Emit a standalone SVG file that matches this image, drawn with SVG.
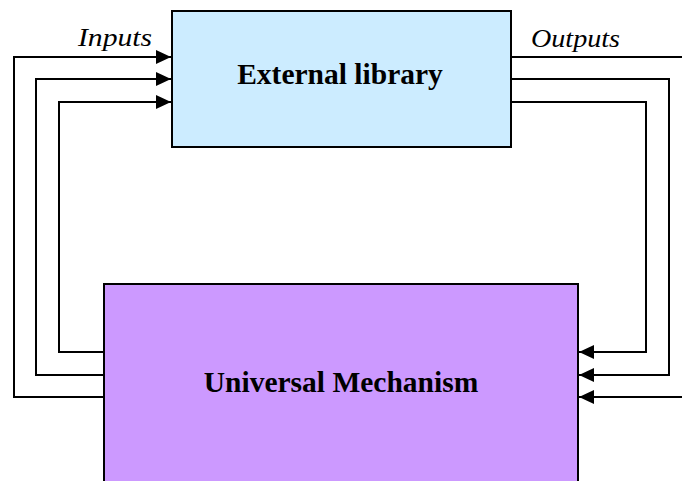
<svg xmlns="http://www.w3.org/2000/svg" width="682" height="481" viewBox="0 0 682 481">
<style>
.box{stroke:#000;stroke-width:2}
.title{font-family:"Liberation Serif","Times New Roman",serif;font-weight:bold;font-size:29.5px;fill:#000;text-anchor:middle}
.lab{font-family:"Liberation Serif","Times New Roman",serif;font-style:italic;font-size:26px;fill:#000}
.conn{fill:none;stroke:#000;stroke-width:2}
</style>
<defs>
<marker id="ah" markerUnits="userSpaceOnUse" markerWidth="16" markerHeight="16" viewBox="0 0 16 16" refX="15" refY="8" orient="auto">
<path d="M0,1 L15,8 L0,15 Z" fill="#000"/>
</marker>
</defs>
<rect width="682" height="481" fill="#fff"/>
<g id="external-library">
<rect class="box" x="172" y="11" width="339" height="136" fill="#CCECFF"/>
<text class="title" x="340" y="83.5">External library</text>
</g>
<g id="universal-mechanism">
<rect class="box" x="104" y="284" width="474" height="210" fill="#CC99FF"/>
<text class="title" x="341" y="391.5">Universal Mechanism</text>
</g>
<g id="connectors">
<path class="conn" d="M104,397 H14 V57 H171" marker-end="url(#ah)"/>
<path class="conn" d="M104,375 H36 V79 H171" marker-end="url(#ah)"/>
<path class="conn" d="M104,352 H59 V102 H171" marker-end="url(#ah)"/>
<path class="conn" d="M511,57 H684"/>
<path class="conn" d="M511,79 H669 V375 H579" marker-end="url(#ah)"/>
<path class="conn" d="M511,102 H646 V352 H579" marker-end="url(#ah)"/>
<path class="conn" d="M684,397 H579" marker-end="url(#ah)"/>
</g>
<text class="lab" x="78" y="45.5" textLength="74" lengthAdjust="spacingAndGlyphs">Inputs</text>
<text class="lab" x="531" y="46.5" textLength="89" lengthAdjust="spacingAndGlyphs">Outputs</text>
</svg>
